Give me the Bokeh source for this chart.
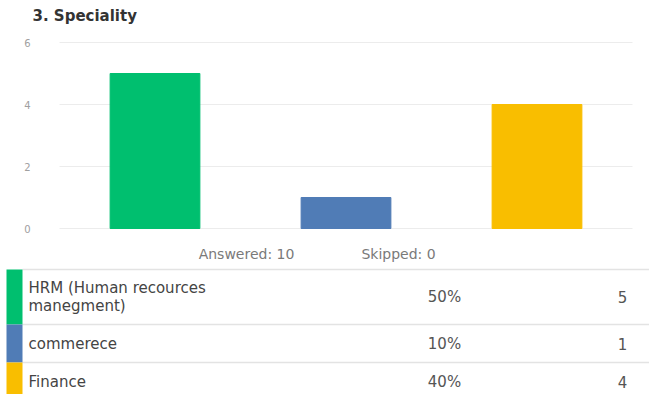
from bokeh.plotting import figure
from bokeh.models import Range1d, ColumnDataSource
from bokeh.core.properties import value
from bokeh.embed import file_html
from bokeh.resources import INLINE

# ---- data ----
title_text = "3. Speciality"
categories = ["HRM (Human recources\nmanegment)", "commerece", "Finance"]
counts = [5, 1, 4]
colors = ["#00bf6f", "#507cb6", "#f9be00"]
skipped = 0
y_ticks = [0, 2, 4, 6]

answered = sum(counts)
percents = ["%d%%" % round(c * 100 / answered) for c in counts]

FONT = "DejaVu Sans"
W, H = 649, 394

# ---- layout (pixels) ----
plot_left, plot_right = 59, 632
plot_top, plot_bottom = 42, 228
ymax = max(y_ticks)
n = len(counts)
px_per_cat = (plot_right - plot_left) / n
px_per_unit = (plot_bottom - plot_top) / ymax

p = figure(width=W, height=H, x_range=Range1d(0, W), y_range=Range1d(H, 0),
           x_axis_location=None, y_axis_location=None,
           output_backend="svg", toolbar_location=None,
           min_border_left=0, min_border_right=0, min_border_top=0, min_border_bottom=0)
p.outline_line_color = None
p.grid.visible = False
p.background_fill_color = "white"
p.border_fill_color = "white"

# scales for the bar chart (category index and count)
p.extra_x_ranges = {"cat": Range1d(-plot_left / px_per_cat, n + (W - plot_right) / px_per_cat)}
p.extra_y_ranges = {"cnt": Range1d(-(H - plot_bottom) / px_per_unit, ymax + plot_top / px_per_unit)}

# grid lines and tick labels
gsrc = ColumnDataSource(dict(y=y_ticks, lab=[str(v) for v in y_ticks]))
p.segment(x0=plot_left, x1=plot_right, y0="y", y1="y", line_color="#ececec", line_width=1,
          y_range_name="cnt", source=gsrc)
p.text(x=30, y="y", text="lab", text_font=value(FONT), text_font_size="10px",
       text_color="#a0a0a0", text_align="right", text_baseline="middle",
       y_range_name="cnt", source=gsrc)

# bars
bsrc = ColumnDataSource(dict(x=[i + 0.5 for i in range(n)], top=counts, color=colors))
p.vbar(x="x", top="top", bottom=0, width=0.47, color="color", source=bsrc,
       x_range_name="cat", y_range_name="cnt")

# title and summary
p.text(x=[32], y=[15], text=[title_text], text_font=value(FONT), text_font_size="15px",
       text_font_style="bold", text_color="#333333", text_baseline="middle")
p.text(x=[246, 398], y=[253, 253], text=["Answered: %d" % answered, "Skipped: %d" % skipped],
       text_font=value(FONT), text_font_size="14px", text_color="#7a7a7a",
       text_baseline="middle", text_align="center")

# ---- table ----
row_tops = [269, 324, 362]
row_bottoms = [324, 362, 400]
tsrc = ColumnDataSource(dict(top=row_tops, bottom=row_bottoms, color=colors,
                             mid=[(a + b) / 2 for a, b in zip(row_tops, row_bottoms)],
                             label=categories, pct=percents, cnt=[str(c) for c in counts]))
p.segment(x0=22, x1=W, y0="top", y1="top", line_color="#e3e3e3", line_width=1.5, source=tsrc)
p.quad(left=6, right=22, top="top", bottom="bottom", color="color", line_color=None, source=tsrc)
p.text(x=28, y="mid", text="label", text_font=value(FONT), text_font_size="15px",
       text_color="#444444", text_baseline="middle", text_line_height=0.95, source=tsrc)
p.text(x=444, y="mid", text="pct", text_font=value(FONT), text_font_size="15px",
       text_color="#555555", text_baseline="middle", text_align="center", source=tsrc)
p.text(x=622, y="mid", text="cnt", text_font=value(FONT), text_font_size="15px",
       text_color="#555555", text_baseline="middle", text_align="center", source=tsrc)

open("out.html", "w").write(file_html(p, INLINE))
